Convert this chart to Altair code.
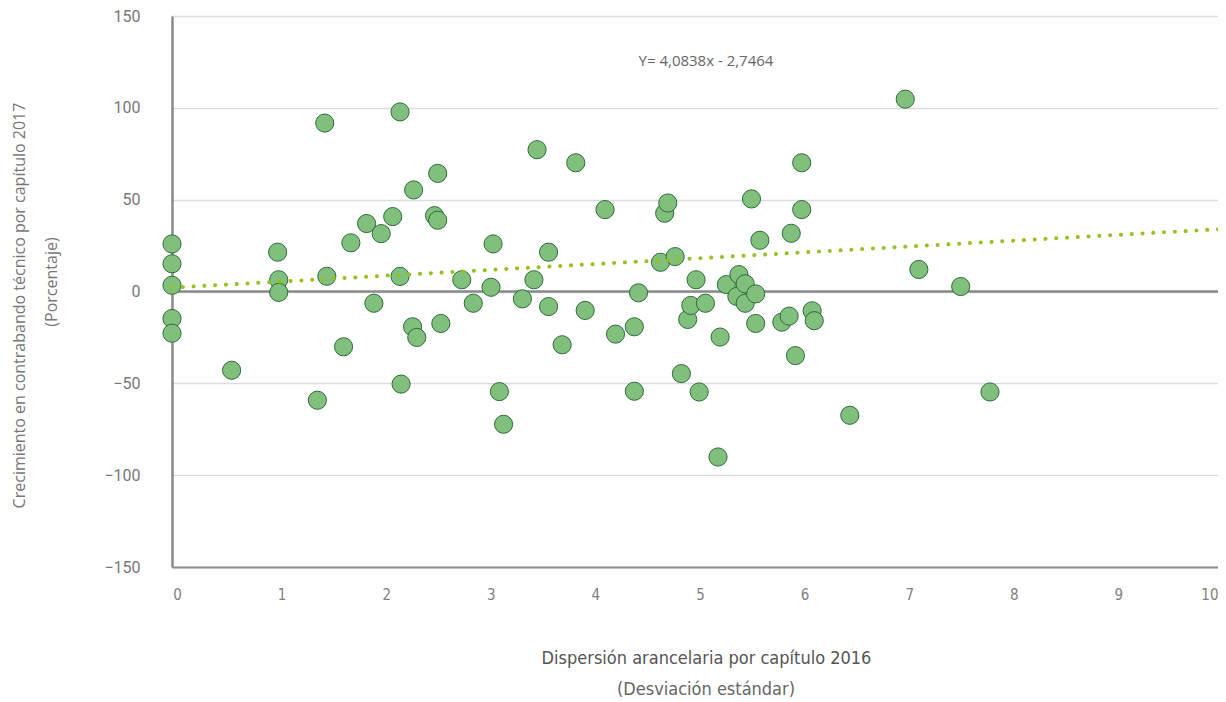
import altair as alt
import pandas as pd

# ---- data ----
x_vals = [0.0, 0.0, 0.0, 0.0, 0.0, 0.57, 1.01, 1.02, 1.02, 1.39,
          1.46, 1.48, 1.64, 1.71, 1.86, 1.93, 2.00, 2.11, 2.18, 2.18,
          2.19, 2.30, 2.31, 2.34, 2.51, 2.54, 2.54, 2.57, 2.77, 2.88,
          3.05, 3.07, 3.13, 3.17, 3.35, 3.46, 3.49, 3.60, 3.60, 3.73,
          3.86, 3.95, 4.14, 4.24, 4.42, 4.42, 4.46, 4.67, 4.71, 4.74,
          4.81, 4.87, 4.93, 4.96, 5.01, 5.04, 5.10, 5.22, 5.24, 5.30,
          5.40, 5.42, 5.48, 5.48, 5.54, 5.58, 5.58, 5.62, 5.83, 5.90,
          5.92, 5.96, 6.02, 6.02, 6.12, 6.14, 6.48, 7.01, 7.14, 7.54,
          7.82]
y_vals = [25.9, 15.1, 3.4, -14.7, -22.7, -42.9, 21.4, 6.4, -0.5, -59.2,
          91.7, 8.3, -30.1, 26.5, 37.0, -6.4, 31.5, 40.8, 97.8, 8.2,
          -50.4, -19.2, 55.3, -25.0, 41.3, 38.8, 64.3, -17.4, 6.4, -6.4,
          2.3, 25.9, -54.5, -72.3, -4.0, 6.4, 77.2, 21.4, -8.2, -29.0,
          70.1, -10.3, 44.6, -23.2, -19.2, -54.3, -0.7, 15.9, 42.6, 48.2,
          19.0, -44.7, -15.2, -7.6, 6.4, -54.7, -6.4, -90.1, -24.8, 3.8,
          -2.7, 9.2, 4.2, -6.4, 50.4, -1.3, -17.4, 27.9, -16.7, -13.4,
          31.7, -34.9, 70.1, 44.6, -10.5, -15.9, -67.4, 104.7, 12.0, 2.7,
          -54.7]
trend_x = [0.0, 10.0]
trend_y = [2.1, 33.9]
x_ticks = [0, 1, 2, 3, 4, 5, 6, 7, 8, 9, 10]
y_ticks = [-150, -100, -50, 0, 50, 100, 150]
zero_line = [0]
equation = "Y= 4,0838x - 2,7464"
x_title = "Dispersión arancelaria por capítulo 2016"
x_subtitle = "(Desviación estándar)"
y_title = "Crecimiento en contrabando técnico por capítulo 2017"
y_subtitle = "(Porcentaje)"

pts = pd.DataFrame({"x": x_vals, "y": y_vals})
trend = pd.DataFrame({"x": trend_x, "y": trend_y})

NARROW = "Liberation Sans Narrow, DejaVu Sans Condensed, sans-serif"

xs = alt.Scale(domain=[0, 10], nice=False, zero=False)
ys = alt.Scale(domain=[-150, 150], nice=False, zero=False)

x_axis = alt.Axis(
    values=x_ticks, format="d", grid=False, ticks=False,
    domain=True, domainColor="#8c8c8c", domainWidth=2,
    labelFont=NARROW, labelFontSize=15, labelColor="#808080",
    labelPadding=20, labelFlush=False, labelOverlap=False,
    labelOffset=alt.expr("datum.value == 10 ? 0 : 5"),
    labelAlign=alt.expr("datum.value == 10 ? 'right' : 'center'"),
    title=x_title, titleFont=NARROW, titleFontSize=18, titleFontWeight=500,
    titleColor="#555555", titleX=534, titleY=91, titleAlign="center",
    titleBaseline="middle",
)
y_axis = alt.Axis(
    values=y_ticks, format="d", grid=True, gridColor="#dcdcdc", gridWidth=1.3,
    ticks=False, domain=True, domainColor="#8a8a8a", domainWidth=2.5,
    labelFont="Roboto", labelFontSize=16, labelColor="#777777",
    labelPadding=32, labelFlush=False,
    title=y_title, titleFont="Open Sans", titleFontSize=16,
    titleFontWeight="normal", titleColor="#777777", titleAngle=270,
    titleX=-153, titleY=289, titleAlign="center", titleBaseline="middle",
)

zero = alt.Chart(pd.DataFrame({"y": zero_line})).mark_rule(
    color="#8a8a8a", strokeWidth=2.5
).encode(y=alt.Y("y:Q", scale=ys))

points = alt.Chart(pts).mark_circle(
    size=330, color="#80c07c", opacity=1, stroke="#2e6b3a", strokeWidth=1
).encode(
    x=alt.X("x:Q", scale=xs, axis=x_axis),
    y=alt.Y("y:Q", scale=ys, axis=y_axis),
)

trend_line = alt.Chart(trend).mark_line(
    color="#97c11f", strokeWidth=4, strokeDash=[0.1, 10.7], strokeCap="round"
).encode(x=alt.X("x:Q", scale=xs), y=alt.Y("y:Q", scale=ys))

eq_text = alt.Chart(pd.DataFrame({"t": [equation]})).mark_text(
    font="Open Sans", fontSize=15, color="#666666", align="center", baseline="middle"
).encode(x=alt.value(534), y=alt.value(45), text="t:N")

x_sub = alt.Chart(pd.DataFrame({"t": [x_subtitle]})).mark_text(
    font=NARROW, fontSize=18, color="#666666", align="center", baseline="middle"
).encode(x=alt.value(534), y=alt.value(674), text="t:N")

y_sub = alt.Chart(pd.DataFrame({"t": [y_subtitle]})).mark_text(
    font="Open Sans", fontSize=16, color="#777777", align="center",
    baseline="middle", angle=270
).encode(x=alt.value(-120), y=alt.value(266), text="t:N")

chart = alt.layer(zero, points, trend_line, eq_text, x_sub, y_sub).properties(
    width=1046, height=551,
    autosize=alt.AutoSizeParams(type="none"),
    padding={"left": 164, "top": 8, "right": 0, "bottom": 133},
    background="white",
).configure_view(stroke=None)

chart.save("out.html", embed_options={"renderer": "svg", "actions": False})
